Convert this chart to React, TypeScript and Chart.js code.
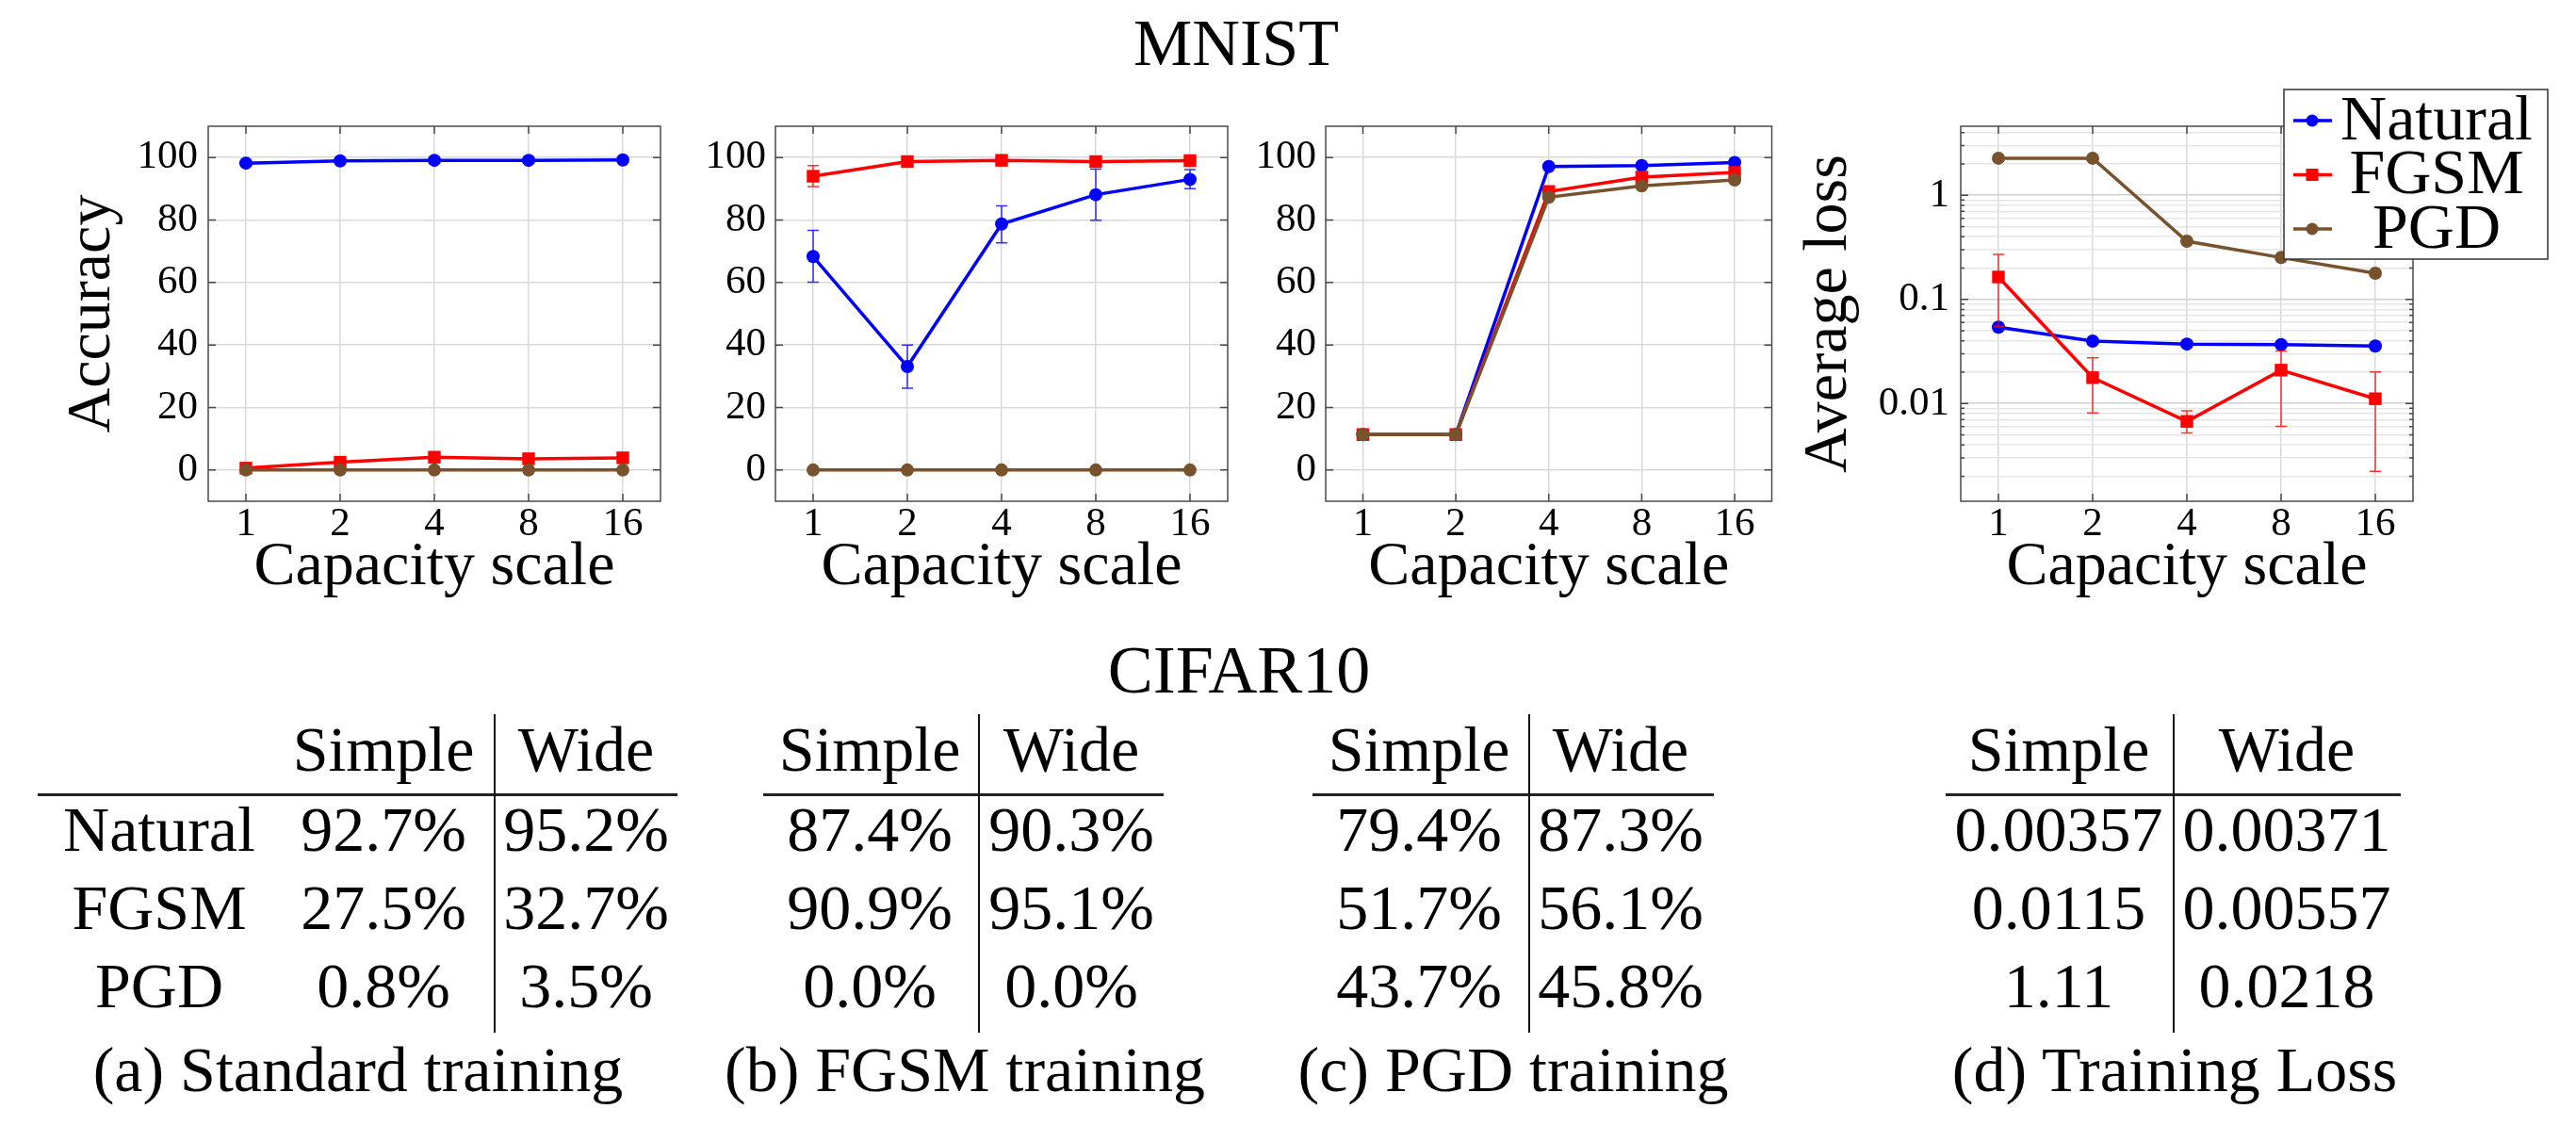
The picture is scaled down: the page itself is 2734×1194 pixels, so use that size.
import React, { useEffect, useRef } from 'react';
import { Chart, registerables } from 'chart.js';

Chart.register(...registerables);

// ---------------- data ----------------
const capacities = [1, 2, 4, 8, 16];
const seriesNames = ['Natural', 'FGSM', 'PGD'];
const accuracyTicks = [0, 20, 40, 60, 80, 100];
const lossTicks = [0.01, 0.1, 1];

// (a) Standard training (MNIST accuracy)
const stdNatural = [98.2, 98.9, 99.1, 99.1, 99.2];
const stdFgsm = [0.6, 2.5, 4.1, 3.6, 3.9];
const stdPgd = [0.0, 0.0, 0.0, 0.0, 0.0];

// (b) FGSM training
const fgsmNatural = [68.3, 33.1, 78.7, 88.1, 93.0];
const fgsmNaturalLo = [60.1, 26.2, 72.7, 79.9, 90.0];
const fgsmNaturalHi = [76.7, 40.0, 84.5, 96.3, 96.1];
const fgsmFgsm = [94.0, 98.7, 99.1, 98.7, 99.0];
const fgsmFgsmLo = [90.7, 98.2, 98.8, 98.2, 98.7];
const fgsmFgsmHi = [97.4, 99.2, 99.4, 99.2, 99.3];
const fgsmPgd = [0.0, 0.0, 0.0, 0.0, 0.0];

// (c) PGD training
const pgdNatural = [11.35, 11.35, 97.1, 97.4, 98.4];
const pgdFgsm = [11.35, 11.35, 89.1, 93.7, 95.2];
const pgdPgd = [11.35, 11.35, 87.3, 90.9, 92.8];

// (d) Training loss (log scale)
const lossNatural = [0.054, 0.0397, 0.0372, 0.0367, 0.0356];
const lossFgsm = [0.164, 0.0177, 0.00673, 0.0209, 0.0111];
const lossFgsmLo = [0.055, 0.0081, 0.00522, 0.00604, 0.00223];
const lossFgsmHi = [0.27, 0.0274, 0.0085, 0.0319, 0.0201];
const lossPgd = [2.27, 2.27, 0.362, 0.252, 0.178];

// CIFAR10 tables
const cifarRowLabels = ['Natural', 'FGSM', 'PGD'];
const cifarColLabels = ['Simple', 'Wide'];
const cifarStandardSimple = ['92.7%', '27.5%', '0.8%'];
const cifarStandardWide = ['95.2%', '32.7%', '3.5%'];
const cifarFgsmSimple = ['87.4%', '90.9%', '0.0%'];
const cifarFgsmWide = ['90.3%', '95.1%', '0.0%'];
const cifarPgdSimple = ['79.4%', '51.7%', '43.7%'];
const cifarPgdWide = ['87.3%', '56.1%', '45.8%'];
const cifarLossSimple = ['0.00357', '0.0115', '1.11'];
const cifarLossWide = ['0.00371', '0.00557', '0.0218'];
const captions = ['(a) Standard training', '(b) FGSM training', '(c) PGD training', '(d) Training Loss'];

// ---------------- styles ----------------
const FAMILY = "'Liberation Serif', 'Times New Roman', serif";
const SERIES_COLORS: Record<string, string> = { Natural: '#0000ff', FGSM: '#ff0000', PGD: '#77522d' };
const GRID = '#d9d9d9';
const GRID_MINOR = '#e6e6e6';
const FRAME = '#4a4a4a';

function lineDataset(label: string, values: number[], lo?: number[], hi?: number[]) {
  const color = SERIES_COLORS[label];
  const isRect = label === 'FGSM';
  return {
    label,
    data: values.map((v, i) => ({ x: Math.log2(capacities[i]), y: v })),
    errLo: lo,
    errHi: hi,
    borderColor: color,
    backgroundColor: color,
    borderWidth: 3.5,
    pointStyle: isRect ? 'rect' : 'circle',
    pointRadius: isRect ? 9.5 : 7,
    pointBorderWidth: 0,
    pointHoverRadius: isRect ? 9.5 : 7,
    tension: 0,
    fill: false,
    order: label === 'PGD' ? 0 : label === 'FGSM' ? 1 : 2,
  };
}

const errorBarPlugin = {
  id: 'errorBars',
  afterDatasetsDraw(chart: any) {
    const { ctx } = chart;
    const yScale = chart.scales.y;
    chart.data.datasets.forEach((d: any, i: number) => {
      if (!d.errLo || !d.errHi) return;
      const meta = chart.getDatasetMeta(i);
      ctx.save();
      ctx.strokeStyle = d.borderColor;
      ctx.globalAlpha = 0.8;
      ctx.lineWidth = 1.5;
      meta.data.forEach((pt: any, j: number) => {
        const px = pt.x;
        const y1 = yScale.getPixelForValue(d.errLo[j]);
        const y2 = yScale.getPixelForValue(d.errHi[j]);
        ctx.beginPath();
        ctx.moveTo(px, y1);
        ctx.lineTo(px, y2);
        ctx.moveTo(px - 6, y1);
        ctx.lineTo(px + 6, y1);
        ctx.moveTo(px - 6, y2);
        ctx.lineTo(px + 6, y2);
        ctx.stroke();
      });
      ctx.restore();
    });
  },
};

const framePlugin = {
  id: 'frame',
  afterDraw(chart: any) {
    const { ctx, chartArea: a } = chart;
    const xs = chart.scales.x;
    const ys = chart.scales.y;
    ctx.save();
    ctx.strokeStyle = FRAME;
    ctx.lineWidth = 1.5;
    ctx.beginPath();
    xs.ticks.forEach((t: any) => {
      const px = xs.getPixelForValue(t.value);
      ctx.moveTo(px, a.bottom);
      ctx.lineTo(px, a.bottom - 8);
      ctx.moveTo(px, a.top);
      ctx.lineTo(px, a.top + 8);
    });
    ys.ticks.forEach((t: any) => {
      const py = ys.getPixelForValue(t.value);
      const len = t.major === false ? 4 : 8;
      ctx.moveTo(a.left, py);
      ctx.lineTo(a.left + len, py);
      ctx.moveTo(a.right, py);
      ctx.lineTo(a.right - len, py);
    });
    ctx.stroke();
    ctx.strokeRect(a.left, a.top, a.right - a.left, a.bottom - a.top);
    ctx.restore();
  },
};

const boxLegendPlugin = {
  id: 'boxLegend',
  afterDraw(chart: any) {
    const { ctx, chartArea: a } = chart;
    const x0 = a.right - 137;
    const y0 = a.top - 39;
    const w = 280;
    const h = 180;
    ctx.save();
    ctx.fillStyle = '#ffffff';
    ctx.fillRect(x0, y0, w, h);
    ctx.strokeStyle = '#333333';
    ctx.lineWidth = 1.5;
    ctx.strokeRect(x0, y0, w, h);
    seriesNames.forEach((name, i) => {
      const d: any = chart.data.datasets.find((ds: any) => ds.label === name);
      if (!d) return;
      const cy = y0 + 33 + i * 57.5;
      ctx.strokeStyle = d.borderColor;
      ctx.fillStyle = d.backgroundColor;
      ctx.lineWidth = 3.5;
      ctx.beginPath();
      ctx.moveTo(x0 + 10, cy);
      ctx.lineTo(x0 + 51, cy);
      ctx.stroke();
      if (d.pointStyle === 'rect') {
        ctx.fillRect(x0 + 30 - 6.5, cy - 6.5, 13, 13);
      } else {
        ctx.beginPath();
        ctx.arc(x0 + 30, cy, 6.5, 0, Math.PI * 2);
        ctx.fill();
      }
      ctx.fillStyle = '#000';
      ctx.font = `68px ${FAMILY}`;
      ctx.textAlign = 'center';
      ctx.textBaseline = 'middle';
      ctx.fillText(name, x0 + 162, cy + 2);
    });
    ctx.restore();
  },
};

function xScaleOptions() {
  return {
    type: 'linear',
    min: -0.4,
    max: 4.4,
    afterBuildTicks: (s: any) => {
      s.ticks = capacities.map((c) => ({ value: Math.log2(c) }));
    },
    afterFit: (s: any) => {
      s.height = 128;
    },
    grid: { color: GRID, lineWidth: 1.5, drawTicks: false, tickLength: 0 },
    border: { display: false },
    ticks: {
      autoSkip: false,
      maxRotation: 0,
      minRotation: 0,
      padding: 3,
      color: '#000',
      font: { family: FAMILY, size: 43, lineHeight: 1 },
      callback: (_v: any, i: number) => String(capacities[i]),
    },
    title: {
      display: true,
      text: 'Capacity scale',
      color: '#000',
      font: { family: FAMILY, size: 66, lineHeight: 1 },
      padding: { top: 0, bottom: 24 },
    },
  };
}

function yAccuracyOptions(width: number, tickPad: number, titleText?: string, titlePad?: number) {
  return {
    type: 'linear',
    min: -10,
    max: 110,
    afterBuildTicks: (s: any) => {
      s.ticks = accuracyTicks.map((v) => ({ value: v }));
    },
    afterFit: (s: any) => {
      s.width = width;
    },
    grid: { color: GRID, lineWidth: 1.5, drawTicks: false, tickLength: 0 },
    border: { display: false },
    ticks: {
      autoSkip: false,
      padding: tickPad,
      color: '#000',
      font: { family: FAMILY, size: 43, lineHeight: 1 },
      callback: (v: any) => String(v),
    },
    title: titleText
      ? {
          display: true,
          text: titleText,
          color: '#000',
          font: { family: FAMILY, size: 66, lineHeight: 1 },
          padding: { top: titlePad, bottom: 0 },
        }
      : { display: false },
  };
}

function yLossOptions(width: number, tickPad: number, titlePad: number) {
  return {
    type: 'logarithmic',
    min: 0.00115,
    max: 4.6,
    afterBuildTicks: (s: any) => {
      const ticks: any[] = [];
      for (let e = -3; e <= 0; e++) {
        for (let k = 1; k <= 9; k++) {
          const v = k * Math.pow(10, e);
          if (v >= s.min && v <= s.max) ticks.push({ value: v, major: k === 1 });
        }
      }
      s.ticks = ticks;
    },
    afterFit: (s: any) => {
      s.width = width;
    },
    grid: {
      color: (c: any) => (c.tick && c.tick.major ? '#cfcfcf' : GRID_MINOR),
      lineWidth: 1.5,
      drawTicks: false,
      tickLength: 0,
    },
    border: { display: false },
    ticks: {
      autoSkip: false,
      padding: tickPad,
      color: '#000',
      font: { family: FAMILY, size: 43, lineHeight: 1 },
      callback: (v: any) => {
        const m = lossTicks.find((t) => Math.abs(v / t - 1) < 1e-6);
        return m !== undefined ? String(m) : '';
      },
    },
    title: {
      display: true,
      text: 'Average loss',
      color: '#000',
      font: { family: FAMILY, size: 66, lineHeight: 1 },
      padding: { top: titlePad, bottom: 0 },
    },
  };
}

function makeConfig(datasets: any[], yOpts: any, padTop: number, padRight: number, extraPlugins: any[] = []) {
  return {
    type: 'line',
    data: { datasets },
    options: {
      animation: false,
      responsive: false,
      events: [],
      layout: { padding: { top: padTop, right: padRight, left: 0, bottom: 0 } },
      plugins: { legend: { display: false }, tooltip: { enabled: false }, title: { display: false } },
      scales: { x: xScaleOptions(), y: yOpts },
    },
    plugins: [errorBarPlugin, framePlugin, ...extraPlugins],
  };
}

function ChartCanvas(props: { left: number; top: number; width: number; height: number; build: () => any }) {
  const ref = useRef<HTMLCanvasElement>(null);
  useEffect(() => {
    const chart = new Chart(ref.current as HTMLCanvasElement, props.build());
    return () => chart.destroy();
  }, []);
  return (
    <canvas
      ref={ref}
      width={props.width}
      height={props.height}
      style={{ position: 'absolute', left: props.left, top: props.top, width: props.width, height: props.height }}
    />
  );
}

function Txt(props: { x: number; y: number; size: number; children: React.ReactNode }) {
  return (
    <div
      style={{
        position: 'absolute',
        left: props.x - 500,
        top: props.y - props.size / 2,
        width: 1000,
        textAlign: 'center',
        fontSize: props.size,
        lineHeight: `${props.size}px`,
        whiteSpace: 'nowrap',
        color: '#000',
      }}
    >
      {props.children}
    </div>
  );
}

function CifarTable(props: {
  simple: string[];
  wide: string[];
  rowLabels?: string[];
  caption: string;
  labelX?: number;
  simpleX: number;
  wideX: number;
  lineX: number;
  ruleL: number;
  ruleR: number;
  captionX: number;
}) {
  const rowY = [880, 963, 1046];
  return (
    <>
      <Txt x={props.simpleX} y={795} size={68}>{cifarColLabels[0]}</Txt>
      <Txt x={props.wideX} y={795} size={68}>{cifarColLabels[1]}</Txt>
      <div style={{ position: 'absolute', left: props.ruleL, top: 842, width: props.ruleR - props.ruleL, height: 3, background: '#222' }} />
      <div style={{ position: 'absolute', left: props.lineX, top: 758, width: 1.5, height: 338, background: '#111' }} />
      {props.rowLabels &&
        props.rowLabels.map((l, i) => (
          <Txt key={'l' + i} x={props.labelX as number} y={rowY[i]} size={68}>{l}</Txt>
        ))}
      {props.simple.map((v, i) => (
        <Txt key={'s' + i} x={props.simpleX} y={rowY[i]} size={68}>{v}</Txt>
      ))}
      {props.wide.map((v, i) => (
        <Txt key={'w' + i} x={props.wideX} y={rowY[i]} size={68}>{v}</Txt>
      ))}
      <Txt x={props.captionX} y={1135} size={68}>{props.caption}</Txt>
    </>
  );
}

export default function App() {
  return (
    <div
      style={{
        position: 'absolute',
        left: 0,
        top: 0,
        width: 2734,
        height: 1194,
        background: '#ffffff',
        fontFamily: FAMILY,
        overflow: 'hidden',
      }}
    >
      <Txt x={1312} y={46} size={70}>MNIST</Txt>

      <ChartCanvas
        left={0}
        top={100}
        width={720}
        height={560}
        build={() =>
          makeConfig(
            [lineDataset('Natural', stdNatural), lineDataset('FGSM', stdFgsm), lineDataset('PGD', stdPgd)],
            yAccuracyOptions(221, 11, 'Accuracy', 66),
            34,
            19
          )
        }
      />
      <ChartCanvas
        left={720}
        top={100}
        width={600}
        height={560}
        build={() =>
          makeConfig(
            [
              lineDataset('Natural', fgsmNatural, fgsmNaturalLo, fgsmNaturalHi),
              lineDataset('FGSM', fgsmFgsm, fgsmFgsmLo, fgsmFgsmHi),
              lineDataset('PGD', fgsmPgd),
            ],
            yAccuracyOptions(103, 10),
            34,
            17
          )
        }
      />
      <ChartCanvas
        left={1320}
        top={100}
        width={570}
        height={560}
        build={() =>
          makeConfig(
            [lineDataset('Natural', pgdNatural), lineDataset('FGSM', pgdFgsm), lineDataset('PGD', pgdPgd)],
            yAccuracyOptions(87, 10),
            34,
            3
          )
        }
      />
      <ChartCanvas
        left={1890}
        top={80}
        width={844}
        height={580}
        build={() =>
          makeConfig(
            [
              lineDataset('Natural', lossNatural),
              lineDataset('FGSM', lossFgsm, lossFgsmLo, lossFgsmHi),
              lineDataset('PGD', lossPgd),
            ],
            yLossOptions(191, 12, 19),
            54,
            173,
            [boxLegendPlugin]
          )
        }
      />

      <Txt x={1315} y={711} size={72}>CIFAR10</Txt>

      <CifarTable
        rowLabels={cifarRowLabels}
        simple={cifarStandardSimple}
        wide={cifarStandardWide}
        caption={captions[0]}
        labelX={169}
        simpleX={407}
        wideX={622}
        lineX={524}
        ruleL={40}
        ruleR={719}
        captionX={380}
      />
      <CifarTable
        simple={cifarFgsmSimple}
        wide={cifarFgsmWide}
        caption={captions[1]}
        simpleX={923}
        wideX={1137}
        lineX={1038}
        ruleL={810}
        ruleR={1235}
        captionX={1024}
      />
      <CifarTable
        simple={cifarPgdSimple}
        wide={cifarPgdWide}
        caption={captions[2]}
        simpleX={1506}
        wideX={1720}
        lineX={1622}
        ruleL={1393}
        ruleR={1819}
        captionX={1606}
      />
      <CifarTable
        simple={cifarLossSimple}
        wide={cifarLossWide}
        caption={captions[3]}
        simpleX={2185}
        wideX={2427}
        lineX={2306}
        ruleL={2065}
        ruleR={2548}
        captionX={2308}
      />
    </div>
  );
}
